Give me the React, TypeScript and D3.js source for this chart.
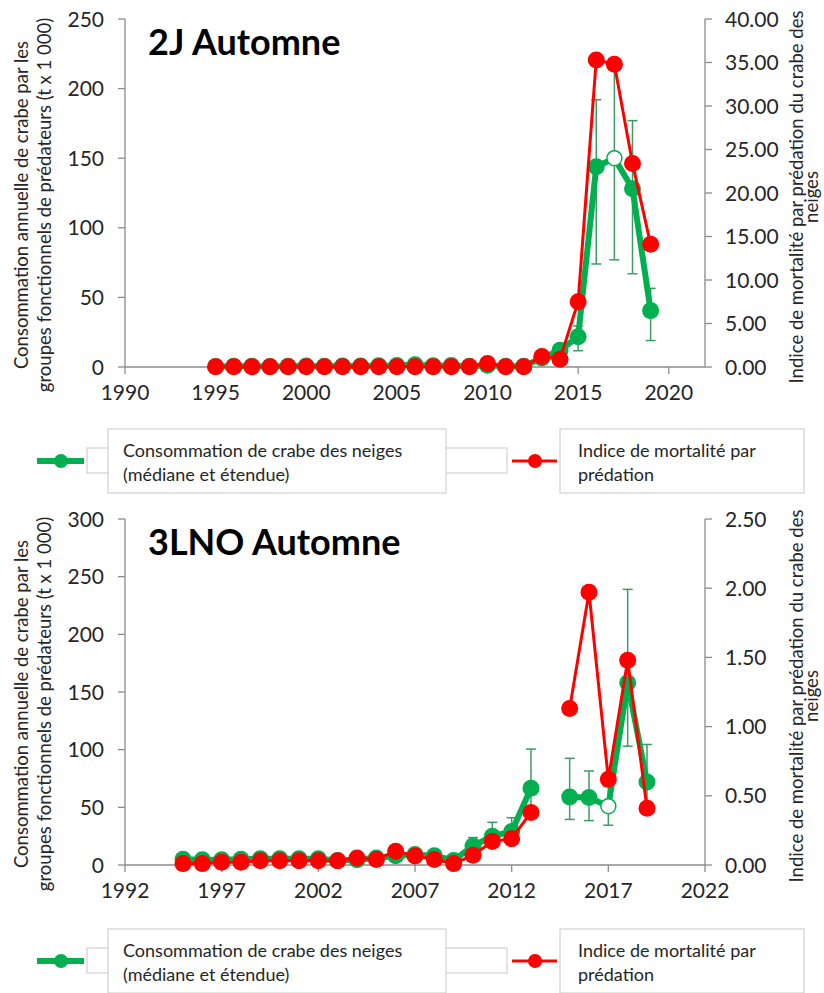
import React from "react";
import * as d3 from "d3";

// ---- 2J Automne ----
const years2J = [1995, 1996, 1997, 1998, 1999, 2000, 2001, 2002, 2003, 2004, 2005, 2006, 2007, 2008, 2009, 2010, 2011, 2012, 2013, 2014, 2015, 2016, 2017, 2018, 2019];
const cons2J: (number | null)[] = [0.4, 0.6, 0.5, 0.4, 0.6, 0.7, 0.5, 0.8, 0.7, 0.9, 1.0, 1.6, 0.9, 1.0, 0.5, 1.3, 0.6, 0.5, 6.5, 12, 21.8, 143.9, 150, 128, 40.5];
const cons2JLo: (number | null)[] = [null, null, null, null, null, null, null, null, null, null, null, null, null, null, null, null, null, null, null, 8, 11.7, 74, 77, 67, 19];
const cons2JHi: (number | null)[] = [null, null, null, null, null, null, null, null, null, null, null, null, null, null, null, null, null, null, null, 15, 29.5, 192, 215, 177, 56.5];
const mort2J: (number | null)[] = [0.02, 0.02, 0.02, 0.02, 0.02, 0.02, 0.03, 0.03, 0.03, 0.03, 0.03, 0.04, 0.03, 0.03, 0.02, 0.4, 0.03, 0.02, 1.2, 0.9, 7.5, 35.3, 34.8, 23.4, 14.1];
const xTicks2J = [1990, 1995, 2000, 2005, 2010, 2015, 2020];
const yTicks2J = [0, 50, 100, 150, 200, 250];
const y2Ticks2J = [0, 5, 10, 15, 20, 25, 30, 35, 40];

// ---- 3LNO Automne ----
const years3L = [1995, 1996, 1997, 1998, 1999, 2000, 2001, 2002, 2003, 2004, 2005, 2006, 2007, 2008, 2009, 2010, 2011, 2012, 2013, 2014, 2015, 2016, 2017, 2018, 2019];
const cons3L: (number | null)[] = [5, 4.5, 4.5, 5, 5.5, 5.5, 5.5, 5.5, 4, 4.5, 6, 8, 9, 8, 4, 16.5, 25, 29, 66.5, null, 59, 58.5, 51, 158, 72];
const cons3LLo: (number | null)[] = [null, null, null, null, null, null, null, null, null, null, null, null, null, null, null, 10, 17, 20, 45, null, 39.5, 38.5, 34.5, 103, 45];
const cons3LHi: (number | null)[] = [null, null, null, null, null, null, null, null, null, null, null, null, null, null, null, 23.8, 37, 41, 100.5, null, 92.5, 81.5, 68, 239, 104.5];
const mort3L: (number | null)[] = [0.01, 0.01, 0.02, 0.02, 0.03, 0.03, 0.03, 0.03, 0.03, 0.05, 0.04, 0.1, 0.065, 0.04, 0.01, 0.07, 0.17, 0.19, 0.38, null, 1.13, 1.97, 0.62, 1.48, 0.41];
const xTicks3L = [1992, 1997, 2002, 2007, 2012, 2017, 2022];
const yTicks3L = [0, 50, 100, 150, 200, 250, 300];
const y2Ticks3L = [0, 0.5, 1, 1.5, 2, 2.5];

// Year drawn as a hollow marker on the consumption series
const hollowYear = 2017;

const GREEN = "#00B050";
const RED = "#FF0000";
const ERR = "#3E9B63";
const AXIS = "#8C8C8C";
const TXT = "#262626";
const FONT = "Lato, 'Open Sans', sans-serif";

const leftTitle = ["Consommation annuelle de crabe par les", "groupes fonctionnels de prédateurs (t x 1 000)"];
const rightTitle = ["Indice de mortalité par prédation du crabe des", "neiges"];
const legendGreen = ["Consommation de crabe des neiges", "(médiane et étendue)"];
const legendRed = ["Indice de mortalité par", "prédation"];

type PanelProps = {
  title: string;
  top: number;
  bottom: number;
  years: number[];
  cons: (number | null)[];
  lo: (number | null)[];
  hi: (number | null)[];
  mort: (number | null)[];
  xDomain: [number, number];
  xTicks: number[];
  yMax: number;
  yTicks: number[];
  y2Max: number;
  y2Ticks: number[];
};

const LEFT = 125;
const RIGHT = 705;

function Panel(p: PanelProps) {
  const x = d3.scaleLinear().domain(p.xDomain).range([LEFT, RIGHT]);
  const y = d3.scaleLinear().domain([0, p.yMax]).range([p.bottom, p.top]);
  const y2 = d3.scaleLinear().domain([0, p.y2Max]).range([p.bottom, p.top]);

  const consPts = p.years.map((yr, i) => ({ yr, v: p.cons[i], lo: p.lo[i], hi: p.hi[i] }));
  const mortPts = p.years.map((yr, i) => ({ yr, v: p.mort[i] }));

  const consLine = d3
    .line<{ yr: number; v: number | null }>()
    .defined((d) => d.v != null)
    .x((d) => x(d.yr))
    .y((d) => y(d.v as number));
  const mortLine = d3
    .line<{ yr: number; v: number | null }>()
    .defined((d) => d.v != null)
    .x((d) => x(d.yr))
    .y((d) => y2(d.v as number));

  const midY = (p.top + p.bottom) / 2;
  const fmt2 = d3.format(".2f");

  return (
    <g>
      {/* axes */}
      <line x1={LEFT} x2={LEFT} y1={p.top} y2={p.bottom} stroke={AXIS} strokeWidth={1.3} />
      <line x1={RIGHT} x2={RIGHT} y1={p.top} y2={p.bottom} stroke={AXIS} strokeWidth={1.3} />
      <line x1={LEFT} x2={RIGHT} y1={p.bottom} y2={p.bottom} stroke={AXIS} strokeWidth={1.3} />
      {p.yTicks.map((t) => (
        <g key={"yl" + t}>
          <line x1={LEFT - 7} x2={LEFT} y1={y(t)} y2={y(t)} stroke={AXIS} strokeWidth={1.3} />
          <text x={104} y={y(t)} dy="0.36em" textAnchor="end" fontSize={21} fill={TXT} fontFamily={FONT}>
            {t}
          </text>
        </g>
      ))}
      {p.y2Ticks.map((t) => (
        <g key={"yr" + t}>
          <line x1={RIGHT} x2={RIGHT + 7} y1={y2(t)} y2={y2(t)} stroke={AXIS} strokeWidth={1.3} />
          <text x={725} y={y2(t)} dy="0.36em" textAnchor="start" fontSize={21} fill={TXT} fontFamily={FONT}>
            {fmt2(t)}
          </text>
        </g>
      ))}
      {p.xTicks.map((t) => (
        <g key={"x" + t}>
          <line x1={x(t)} x2={x(t)} y1={p.bottom} y2={p.bottom + 7} stroke={AXIS} strokeWidth={1.3} />
          <text x={x(t)} y={p.bottom + 33} textAnchor="middle" fontSize={21} fill={TXT} fontFamily={FONT}>
            {t}
          </text>
        </g>
      ))}

      {/* axis titles */}
      <text transform={`translate(28,${midY + 12}) rotate(-90)`} textAnchor="middle" fontSize={18.5} fill={TXT} fontFamily={FONT}>
        {leftTitle[0]}
      </text>
      <text transform={`translate(51,${midY + 12}) rotate(-90)`} textAnchor="middle" fontSize={18.5} fill={TXT} fontFamily={FONT}>
        {leftTitle[1]}
      </text>
      <text transform={`translate(803,${midY + 4}) rotate(-90)`} textAnchor="middle" fontSize={18.5} fill={TXT} fontFamily={FONT}>
        {rightTitle[0]}
      </text>
      <text transform={`translate(818,${midY + 4}) rotate(-90)`} textAnchor="middle" fontSize={18.5} fill={TXT} fontFamily={FONT}>
        {rightTitle[1]}
      </text>

      {/* panel title */}
      <text x={148} y={p.top + 36} fontSize={36} fontWeight={700} fill="#000" fontFamily={FONT}>
        {p.title}
      </text>

      {/* error bars (median range) */}
      {consPts
        .filter((d) => d.lo != null && d.hi != null)
        .map((d) => (
          <g key={"e" + d.yr} stroke={ERR} strokeWidth={1.5}>
            <line x1={x(d.yr)} x2={x(d.yr)} y1={y(d.lo as number)} y2={y(d.hi as number)} />
            <line x1={x(d.yr) - 5} x2={x(d.yr) + 5} y1={y(d.lo as number)} y2={y(d.lo as number)} />
            <line x1={x(d.yr) - 5} x2={x(d.yr) + 5} y1={y(d.hi as number)} y2={y(d.hi as number)} />
          </g>
        ))}

      {/* consumption series */}
      <path d={consLine(consPts) || ""} fill="none" stroke={GREEN} strokeWidth={6} strokeLinejoin="round" />
      {consPts
        .filter((d) => d.v != null)
        .map((d) =>
          d.yr === hollowYear ? (
            <circle key={"g" + d.yr} cx={x(d.yr)} cy={y(d.v as number)} r={7.5} fill="#fff" stroke={GREEN} strokeWidth={1.5} />
          ) : (
            <circle key={"g" + d.yr} cx={x(d.yr)} cy={y(d.v as number)} r={8.5} fill={GREEN} />
          )
        )}

      {/* mortality index series */}
      <path d={mortLine(mortPts) || ""} fill="none" stroke={RED} strokeWidth={3} strokeLinejoin="round" />
      {mortPts
        .filter((d) => d.v != null)
        .map((d) => (
          <circle key={"r" + d.yr} cx={x(d.yr)} cy={y2(d.v as number)} r={8.5} fill={RED} />
        ))}
    </g>
  );
}

function Legend({ off }: { off: number }) {
  const box = "#C8C8C8";
  return (
    <g transform={`translate(0,${off})`}>
      <rect x={87} y={448} width={420} height={25} fill="#fff" stroke={box} strokeWidth={1} />
      <rect x={108} y={429} width={338} height={64} fill="#fff" stroke={box} strokeWidth={1} />
      <line x1={37} x2={84} y1={461} y2={461} stroke={GREEN} strokeWidth={6} />
      <circle cx={61} cy={461} r={7} fill={GREEN} />
      <text x={123} y={457} fontSize={18} fill={TXT} fontFamily={FONT}>
        {legendGreen[0]}
      </text>
      <text x={123} y={481} fontSize={18} fill={TXT} fontFamily={FONT}>
        {legendGreen[1]}
      </text>
      <rect x={560} y={429} width={244} height={64} fill="#fff" stroke={box} strokeWidth={1} />
      <line x1={512} x2={557} y1={461} y2={461} stroke={RED} strokeWidth={3} />
      <circle cx={535} cy={461} r={7} fill={RED} />
      <text x={578} y={457} fontSize={18} fill={TXT} fontFamily={FONT}>
        {legendRed[0]}
      </text>
      <text x={578} y={481} fontSize={18} fill={TXT} fontFamily={FONT}>
        {legendRed[1]}
      </text>
    </g>
  );
}

export default function App() {
  return (
    <svg
      width={824}
      height={993}
      viewBox="0 0 824 993"
      style={{ position: "absolute", left: 0, top: 0, background: "#fff" }}
    >
      <rect width={824} height={993} fill="#fff" />
      <Panel
        title="2J Automne"
        top={19}
        bottom={367}
        years={years2J}
        cons={cons2J}
        lo={cons2JLo}
        hi={cons2JHi}
        mort={mort2J}
        xDomain={[1990, 2022]}
        xTicks={xTicks2J}
        yMax={250}
        yTicks={yTicks2J}
        y2Max={40}
        y2Ticks={y2Ticks2J}
      />
      <Legend off={0} />
      <Panel
        title="3LNO Automne"
        top={519}
        bottom={865}
        years={years3L}
        cons={cons3L}
        lo={cons3LLo}
        hi={cons3LHi}
        mort={mort3L}
        xDomain={[1992, 2022]}
        xTicks={xTicks3L}
        yMax={300}
        yTicks={yTicks3L}
        y2Max={2.5}
        y2Ticks={y2Ticks3L}
      />
      <Legend off={500} />
    </svg>
  );
}
